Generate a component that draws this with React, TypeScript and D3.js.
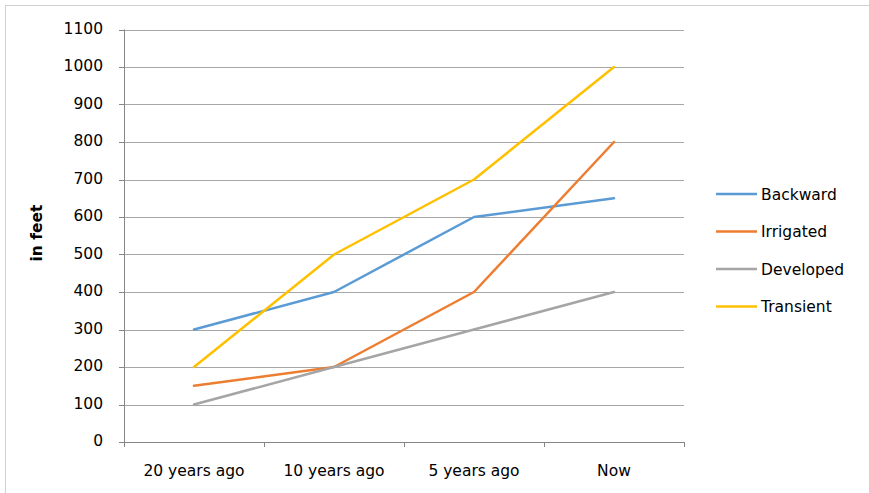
import React from "react";
import * as d3 from "d3";

const categories = ["20 years ago", "10 years ago", "5 years ago", "Now"];
const seriesNames = ["Backward", "Irrigated", "Developed", "Transient"];
const backward = [300, 400, 600, 650];
const irrigated = [150, 200, 400, 800];
const developed = [100, 200, 300, 400];
const transient = [200, 500, 700, 1000];
const seriesColors = ["#5B9BD5", "#ED7D31", "#A5A5A5", "#FFC000"];
const yTicks = [0, 100, 200, 300, 400, 500, 600, 700, 800, 900, 1000, 1100];

const W = 869;
const H = 493;
const plot = { left: 124, right: 684, top: 29.5, bottom: 442 };
const font = "'DejaVu Sans', sans-serif";
const fs = 15.5;

export default function App() {
  const x = d3
    .scaleBand<string>()
    .domain(categories)
    .range([plot.left, plot.right]);
  const y = d3.scaleLinear().domain([0, 1100]).range([plot.bottom, plot.top]);
  const line = d3
    .line<number>()
    .x((_, i) => (x(categories[i]) as number) + x.bandwidth() / 2)
    .y((d) => y(d));

  const allSeries = [backward, irrigated, developed, transient];
  const crisp = (v: number) => Math.round(v) + 0.5;

  return (
    <svg
      width={W}
      height={H}
      style={{ position: "absolute", left: 0, top: 0, background: "#fff" }}
    >
      <rect x={5.5} y={5.5} width={W + 20} height={H + 20} fill="#fff" stroke="#d0d0d0" />
      {yTicks.map((t) => (
        <g key={t}>
          {t > 0 && (
            <line
              x1={plot.left}
              x2={plot.right}
              y1={crisp(y(t))}
              y2={crisp(y(t))}
              stroke="#a6a6a6"
            />
          )}
          <line
            x1={plot.left - 5}
            x2={plot.left}
            y1={crisp(y(t))}
            y2={crisp(y(t))}
            stroke="#868686"
          />
          <text
            x={103}
            y={y(t) + 4}
            textAnchor="end"
            fontFamily={font}
            fontSize={fs}
            fill="#000"
          >
            {t}
          </text>
        </g>
      ))}
      {/* axes */}
      <line x1={crisp(plot.left)} x2={crisp(plot.left)} y1={plot.top} y2={plot.bottom} stroke="#868686" />
      <line x1={plot.left} x2={plot.right + 0.5} y1={crisp(plot.bottom)} y2={crisp(plot.bottom)} stroke="#868686" />
      {[...categories.map((c) => x(c) as number), plot.right].map((px, i) => (
        <line
          key={i}
          x1={crisp(px)}
          x2={crisp(px)}
          y1={plot.bottom}
          y2={plot.bottom + 5}
          stroke="#868686"
        />
      ))}
      {categories.map((c) => (
        <text
          key={c}
          x={(x(c) as number) + x.bandwidth() / 2}
          y={475.5}
          textAnchor="middle"
          fontFamily={font}
          fontSize={fs}
          fill="#000"
        >
          {c}
        </text>
      ))}
      <text
        transform="translate(42,233) rotate(-90)"
        textAnchor="middle"
        fontFamily={font}
        fontSize={fs}
        fontWeight="bold"
        fill="#000"
      >
        in feet
      </text>
      {allSeries.map((s, i) => (
        <path
          key={i}
          d={line(s) as string}
          fill="none"
          stroke={seriesColors[i]}
          strokeWidth={2.5}
          strokeLinejoin="round"
          strokeLinecap="round"
        />
      ))}
      {seriesNames.map((n, i) => {
        const ly = 194 + i * 37.5;
        return (
          <g key={n}>
            <line x1={716} x2={757} y1={ly} y2={ly} stroke={seriesColors[i]} strokeWidth={2.5} />
            <text
              x={761}
              y={ly + 5.5}
              fontFamily={font}
              fontSize={fs}
              fill="#000"
            >
              {n}
            </text>
          </g>
        );
      })}
    </svg>
  );
}
